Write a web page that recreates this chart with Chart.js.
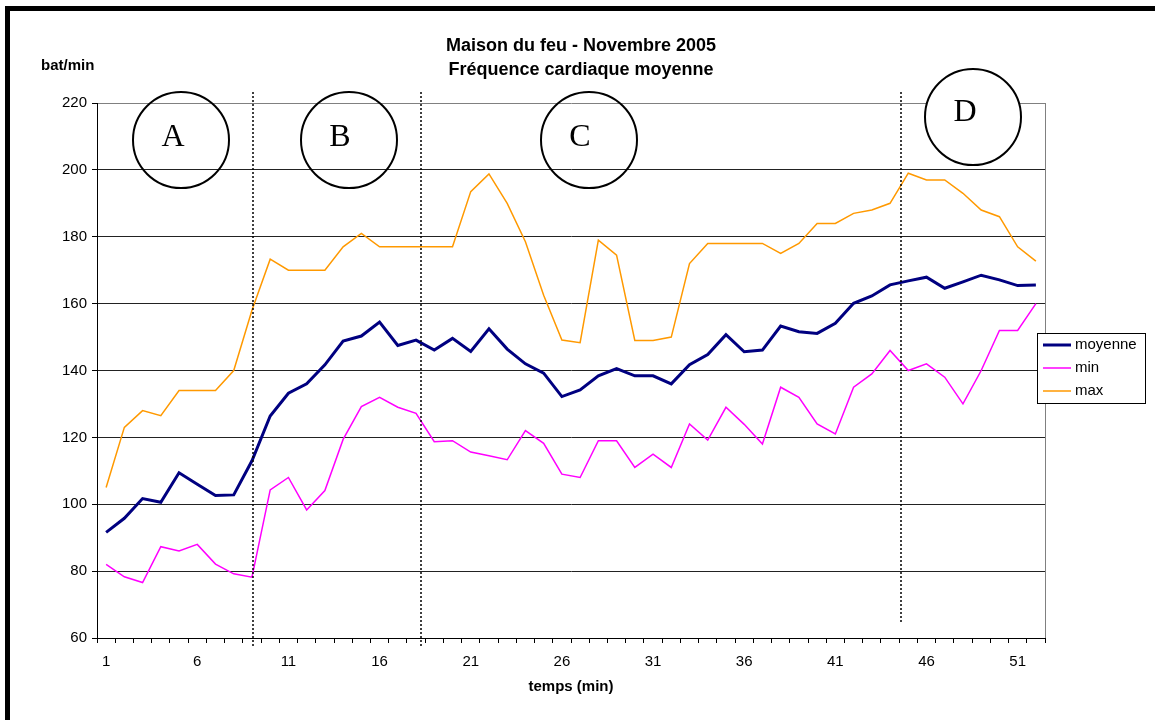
<!DOCTYPE html>
<html>
<head>
<meta charset="utf-8">
<script src="https://cdn.jsdelivr.net/npm/chart.js@4"></script>
<style>
  body { margin: 0; background: #fff; }
  canvas { display: block; }
</style>
</head>
<body>
<canvas id="fc" width="1155" height="720"></canvas>
<script>
// minutes de l'exercice
const minutes = [1, 2, 3, 4, 5, 6, 7, 8, 9, 10, 11, 12, 13, 14, 15, 16, 17, 18, 19, 20,
  21, 22, 23, 24, 25, 26, 27, 28, 29, 30, 31, 32, 33, 34, 35, 36, 37, 38, 39, 40,
  41, 42, 43, 44, 45, 46, 47, 48, 49, 50, 51, 52];

// fréquence cardiaque (bat/min)
const moyenne = [91.6, 95.8, 101.7, 100.6, 109.4, 106, 102.6, 102.8, 113, 126.4,
  133.2, 136, 141.7, 148.8, 150.3, 154.5, 147.5, 149.1, 146.1, 149.6,
  145.7, 152.5, 146.4, 142, 139.2, 132.2, 134.2, 138.4, 140.6, 138.4,
  138.4, 136, 141.7, 144.8, 150.7, 145.6, 146.1, 153.3, 151.6, 151.1,
  154.1, 160.1, 162.3, 165.6, 166.8, 167.9, 164.6, 166.5, 168.5, 167.1,
  165.4, 165.6];
const mini = [82, 78.3, 76.6, 87.3, 86, 88, 82.1, 79.2, 78.2, 104.3,
  108, 98.3, 104.1, 119.4, 129.2, 132, 129, 127.2, 118.7, 119,
  115.6, 114.5, 113.3, 122, 118.2, 109, 108, 119, 119, 111,
  115, 111, 124, 119.2, 129, 123.9, 118, 135, 132, 124,
  121, 135, 139, 146, 140, 142, 138, 130, 140, 152,
  152, 160];
const maxi = [105, 123, 128, 126.5, 134, 134, 134, 140, 158, 173.3,
  170, 170, 170, 177, 181, 177, 177, 177, 177, 177,
  193.5, 198.8, 190, 178.5, 162.5, 149.1, 148.3, 179, 174.5, 149,
  149, 150, 172, 178, 178, 178, 178, 175, 178, 184,
  184, 187, 188, 190, 199, 197, 197, 193, 188, 186,
  177, 172.7];

// phases A-D
const phases = ['A', 'B', 'C', 'D'];

const series = [
  { label: 'moyenne', data: moyenne, color: '#000080', width: 3 },
  { label: 'min', data: mini, color: '#FF00FF', width: 1.5 },
  { label: 'max', data: maxi, color: '#FF9900', width: 1.5 }
];

Chart.defaults.font.family = '"Liberation Sans", Arial, sans-serif';
Chart.defaults.font.size = 15;
Chart.defaults.color = '#000';

// séparations entre phases (pixels x) et cercles
const separators = [
  { x: 253, y0: 92, y1: 646 },
  { x: 421, y0: 92, y1: 646 },
  { x: 901, y0: 92, y1: 622 }
];
const circles = [
  { cx: 181, cy: 140, r: 48, tx: 173, ty: 138, fill: false },
  { cx: 349, cy: 140, r: 48, tx: 340, ty: 138, fill: false },
  { cx: 589, cy: 140, r: 48, tx: 580, ty: 138, fill: false },
  { cx: 973, cy: 117, r: 48, tx: 965, ty: 113, fill: true }
];

const decor = {
  id: 'decor',
  afterDraw(chart) {
    const ctx = chart.ctx;
    const a = chart.chartArea;
    ctx.save();

    // cadre
    ctx.fillStyle = '#000';
    ctx.fillRect(5, 6, 1150, 5);
    ctx.fillRect(5, 6, 5, 714);

    // bord droit de la zone de tracé
    ctx.strokeStyle = '#808080';
    ctx.lineWidth = 1;
    ctx.beginPath();
    ctx.moveTo(Math.round(a.right) + 0.5, a.top);
    ctx.lineTo(Math.round(a.right) + 0.5, a.bottom);
    ctx.stroke();

    // titres
    ctx.textAlign = 'center';
    ctx.textBaseline = 'middle';
    ctx.font = 'bold 18px "Liberation Sans", Arial';
    ctx.fillText('Maison du feu - Novembre 2005', 581, 46);
    ctx.fillText('Fréquence cardiaque moyenne', 581, 70);
    ctx.textAlign = 'left';
    ctx.font = 'bold 15px "Liberation Sans", Arial';
    ctx.fillText('bat/min', 41, 66);

    // pointillés
    ctx.strokeStyle = '#000';
    ctx.lineWidth = 1.5;
    ctx.setLineDash([2, 2]);
    separators.forEach(s => {
      ctx.beginPath();
      ctx.moveTo(s.x, s.y0);
      ctx.lineTo(s.x, s.y1);
      ctx.stroke();
    });
    ctx.setLineDash([]);

    // cercles des phases
    ctx.lineWidth = 2;
    circles.forEach((c, i) => {
      ctx.beginPath();
      ctx.arc(c.cx, c.cy, c.r, 0, Math.PI * 2);
      if (c.fill) { ctx.fillStyle = '#fff'; ctx.fill(); }
      ctx.stroke();
      ctx.fillStyle = '#000';
      ctx.textAlign = 'center';
      ctx.font = '32px "Liberation Serif", "Times New Roman", serif';
      ctx.fillText(phases[i], c.tx, c.ty);
    });

    // légende
    const lx = 1037, ly = 333;
    ctx.fillStyle = '#fff';
    ctx.fillRect(lx, ly, 108, 70);
    ctx.strokeStyle = '#000';
    ctx.lineWidth = 1;
    ctx.strokeRect(lx + 0.5, ly + 0.5, 108, 70);
    ctx.font = '15px "Liberation Sans", Arial';
    ctx.textAlign = 'left';
    series.forEach((s, i) => {
      const y = ly + 12 + i * 23;
      ctx.strokeStyle = s.color;
      ctx.lineWidth = s.width;
      ctx.beginPath();
      ctx.moveTo(lx + 6, y);
      ctx.lineTo(lx + 34, y);
      ctx.stroke();
      ctx.fillStyle = '#000';
      ctx.fillText(s.label, lx + 38, y);
    });

    ctx.restore();
  }
};

new Chart(document.getElementById('fc'), {
  type: 'line',
  data: {
    labels: minutes,
    datasets: series.map(s => ({
      label: s.label,
      data: s.data,
      borderColor: s.color,
      backgroundColor: s.color,
      borderWidth: s.width,
      pointRadius: 0,
      tension: 0,
      fill: false
    }))
  },
  options: {
    responsive: false,
    animation: false,
    layout: { padding: { left: 20, right: 110, top: 103, bottom: 24 } },
    plugins: {
      legend: { display: false },
      title: { display: false },
      tooltip: { enabled: false }
    },
    scales: {
      x: {
        offset: true,
        grid: {
          offset: true,
          drawOnChartArea: false,
          drawTicks: true,
          tickLength: 5,
          tickColor: '#000'
        },
        border: { color: '#000', width: 1 },
        ticks: {
          autoSkip: false,
          maxRotation: 0,
          padding: 10,
          callback: (v, i) => (i % 5 === 0 ? minutes[i] : '')
        },
        title: {
          display: true,
          text: 'temps (min)',
          font: { weight: 'bold', size: 15 },
          padding: { top: 6, bottom: 0 }
        },
        afterFit: s => { s.height = 58; }
      },
      y: {
        min: 60,
        max: 220,
        ticks: { stepSize: 20, padding: 5 },
        grid: {
          color: ctx => (ctx.tick && ctx.tick.value === 220 ? '#808080' : '#222'),
          tickColor: '#000',
          tickLength: 5
        },
        border: { color: '#000', width: 1 },
        afterFit: s => { s.width = 77; }
      }
    }
  },
  plugins: [decor]
});
</script>
</body>
</html>
